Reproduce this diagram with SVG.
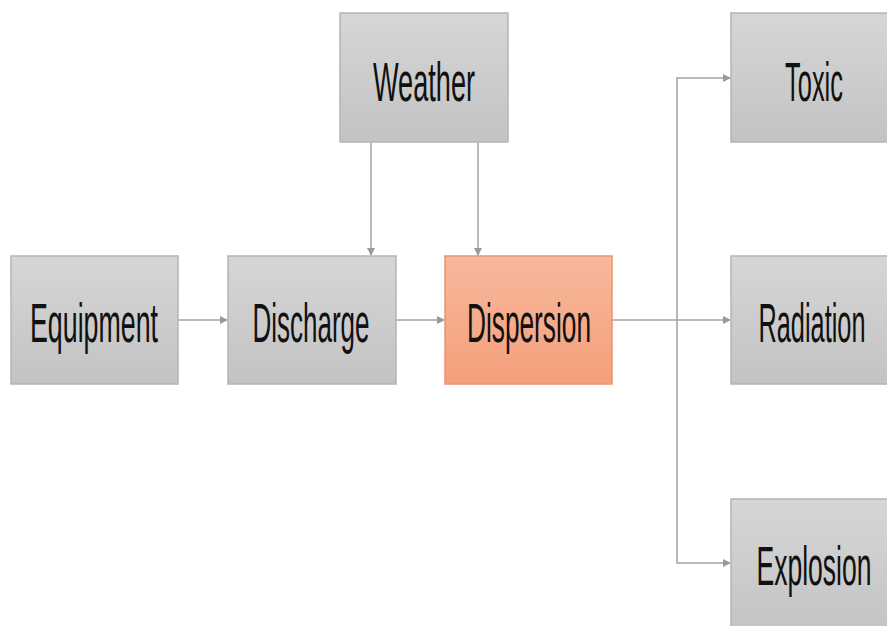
<svg xmlns="http://www.w3.org/2000/svg" width="887" height="626" viewBox="0 0 887 626">
  <defs>
    <linearGradient id="gray" x1="0" y1="0" x2="0" y2="1">
      <stop offset="0" stop-color="#d6d6d6"/>
      <stop offset="1" stop-color="#c3c3c3"/>
    </linearGradient>
    <linearGradient id="salmon" x1="0" y1="0" x2="0" y2="1">
      <stop offset="0" stop-color="#f7b89c"/>
      <stop offset="1" stop-color="#f59f7b"/>
    </linearGradient>
    <marker id="arrow" markerWidth="8" markerHeight="8" refX="7" refY="4" orient="auto" markerUnits="userSpaceOnUse">
      <path d="M0,0 L8,4 L0,8 Z" fill="#9a9a9a"/>
    </marker>
  </defs>
  <style>
    .box { fill: url(#gray); stroke: #b4b4b4; stroke-width: 1.5; }
    .hot { fill: url(#salmon); stroke: #e8946e; stroke-width: 1.5; }
    .label { font-family: "Liberation Sans", Arial, sans-serif; font-size: 56px; fill: #111; text-anchor: middle; }
    .link { fill: none; stroke: #a3a3a3; stroke-width: 1.5; }
  </style>
  <rect width="887" height="626" fill="#ffffff"/>

  <g id="connectors">
    <line class="link" x1="178" y1="320" x2="227" y2="320" marker-end="url(#arrow)"/>
    <line class="link" x1="396" y1="320" x2="444" y2="320" marker-end="url(#arrow)"/>
    <line class="link" x1="371" y1="142" x2="371" y2="255" marker-end="url(#arrow)"/>
    <line class="link" x1="478" y1="142" x2="478" y2="255" marker-end="url(#arrow)"/>
    <line class="link" x1="612" y1="320" x2="730" y2="320" marker-end="url(#arrow)"/>
    <polyline class="link" points="677,320 677,78 730,78" marker-end="url(#arrow)"/>
    <polyline class="link" points="677,320 677,563 730,563" marker-end="url(#arrow)"/>
  </g>

  <g id="weather">
    <rect class="box" x="340" y="13" width="168" height="129"/>
    <text class="label" x="424" y="101" textLength="102" lengthAdjust="spacingAndGlyphs">Weather</text>
  </g>
  <g id="equipment">
    <rect class="box" x="11" y="256" width="167" height="128"/>
    <text class="label" x="94" y="342" textLength="128" lengthAdjust="spacingAndGlyphs">Equipment</text>
  </g>
  <g id="discharge">
    <rect class="box" x="228" y="256" width="168" height="128"/>
    <text class="label" x="311" y="342" textLength="117" lengthAdjust="spacingAndGlyphs">Discharge</text>
  </g>
  <g id="dispersion">
    <rect class="hot" x="445" y="256" width="167" height="128"/>
    <text class="label" x="529" y="342" textLength="124" lengthAdjust="spacingAndGlyphs">Dispersion</text>
  </g>
  <g id="toxic">
    <rect class="box" x="731" y="13" width="170" height="129"/>
    <text class="label" x="814" y="101" textLength="58" lengthAdjust="spacingAndGlyphs">Toxic</text>
  </g>
  <g id="radiation">
    <rect class="box" x="731" y="256" width="170" height="128"/>
    <text class="label" x="812" y="342" textLength="107" lengthAdjust="spacingAndGlyphs">Radiation</text>
  </g>
  <g id="explosion">
    <rect class="box" x="731" y="499" width="170" height="140"/>
    <text class="label" x="814" y="585" textLength="115" lengthAdjust="spacingAndGlyphs">Explosion</text>
  </g>
</svg>
